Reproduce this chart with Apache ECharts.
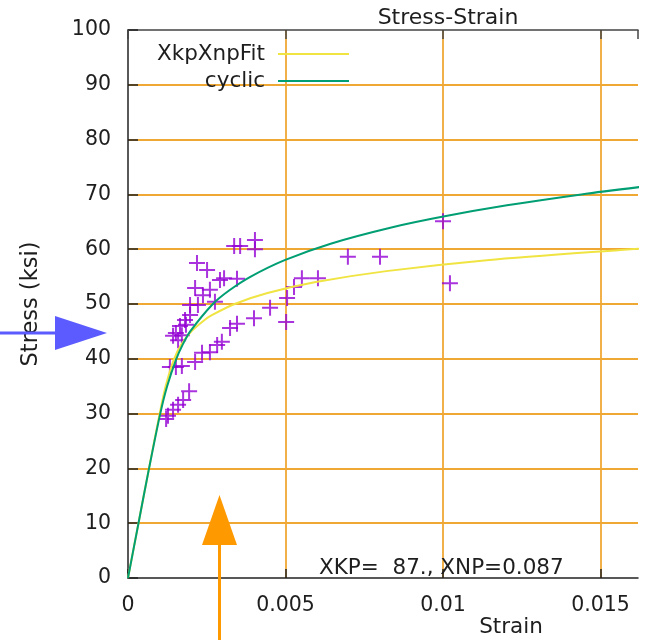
<!DOCTYPE html>
<html>
<head>
<meta charset="utf-8">
<script src="https://cdn.jsdelivr.net/npm/echarts@6/dist/echarts.min.js"></script>
<style>html,body{margin:0;padding:0;background:#fff}#c{width:651px;height:640px}</style>
</head>
<body>
<div id="c"></div>
<script>
// ---- data ----
var xTicks = [0, 0.005, 0.01, 0.015];
var yTicks = [0, 10, 20, 30, 40, 50, 60, 70, 80, 90, 100];
// test points (strain, stress ksi)
var testStrain = [0.00219,0.00251,0.00292,0.00305,0.00346,0.00213,0.00238,0.00260,0.00222,0.00197,
  0.00276,0.00181,0.00197,0.00165,0.00184,0.00152,0.00171,0.00143,0.00159,0.00356,
  0.00403,0.00403,0.00337,0.00133,0.00152,0.00171,0.00213,0.00235,0.00260,0.00283,
  0.00298,0.00324,0.00346,0.00400,0.00451,0.00502,0.00505,0.00527,0.00552,0.00603,
  0.00698,0.00800,0.01000,0.01022,0.00194,0.00175,0.00159,0.00143,0.00127,0.00121];
var testStress = [57.5,56.2,54.4,54.7,54.6,52.9,51.6,52.6,49.8,49.8,
  50.4,47.1,48.0,46.0,46.2,44.7,44.3,44.2,43.4,60.6,
  61.7,60.0,60.6,38.5,38.5,38.7,39.4,41.1,41.2,42.5,
  43.1,45.6,46.4,47.4,49.3,46.7,51.1,53.1,54.7,54.7,
  58.6,58.6,65.1,53.8,34.1,32.5,31.6,30.7,29.6,29.0];
// XkpXnpFit curve
var fitStrain = [0,0.000333,0.000667,0.001005,0.001195,0.001465,0.001682,0.002012,0.002411,0.002675,0.003386,0.00443,0.00596,0.0082,0.01139,0.01596,0.01651];
var fitStress = [0,10,20,30,35,40,42.5,45,47,48,50,52,54,56,58,60,60.2];
// cyclic curve
var cycStrain = [0,0.000333,0.000668,0.001024,0.001242,0.001534,0.001729,0.001975,0.002694,0.00322,0.003897,0.004974,0.006433,0.008393,0.01005,0.01203,0.01439,0.01647];
var cycStress = [0,10,20,30,35,40,42.5,45,50,52.5,55,58,61,64,66,68,70,71.5];
var annotation = 'XKP=  87., XNP=0.087';

function pairs(xs, ys){ return xs.map(function(x,i){ return [x, ys[i]]; }); }

var FONT = 'DejaVu Sans';
var TXT = '#1e1e1e';
var GRIDC = '#f0a835';
var chart = echarts.init(document.getElementById('c'), null, {renderer:'canvas'});
chart.setOption({
  animation: false,
  backgroundColor: '#fff',
  title: {
    text: 'Stress-Strain', left: 443, top: 2, textAlign: 'center',
    textStyle: {fontFamily: FONT, fontSize: 22, fontWeight: 'normal', color: TXT}
  },
  legend: {
    data: ['XkpXnpFit', 'cyclic'],
    orient: 'vertical', align: 'right', icon: 'rect',
    right: 297, top: 38, itemWidth: 71, itemHeight: 2, itemGap: 5,
    textStyle: {fontFamily: FONT, fontSize: 21.5, color: TXT, padding: [0, 8, 0, 0]}
  },
  grid: {left: 128, right: 13, top: 30, bottom: 62, containLabel: false},
  xAxis: [{
    type: 'value', min: 0, max: 0.01619, interval: 0.005, position: 'bottom',
    axisLine: {show: true, lineStyle: {color: '#222', width: 1.5}},
    axisTick: {show: true, inside: true, length: 9, lineStyle: {color: '#222', width: 1.5}},
    axisLabel: {fontFamily: FONT, fontSize: 20.5, color: TXT, margin: 17, showMaxLabel: false,
      formatter: function(v){ var r = Math.round(v*1000)/1000; return xTicks.indexOf(r) >= 0 ? String(r) : ''; }},
    splitLine: {show: true, showMinLine: false, showMaxLine: false, lineStyle: {color: GRIDC, width: 1.8}}
  }, {
    type: 'value', min: 0, max: 0.01619, interval: 0.005, position: 'top',
    axisLine: {show: true, lineStyle: {color: '#444', width: 1.5}},
    axisTick: {show: true, inside: true, length: 9, lineStyle: {color: '#444', width: 1.5}},
    axisLabel: {show: false}, splitLine: {show: false}
  }],
  yAxis: {
    type: 'value', min: 0, max: 100, interval: 10,
    axisLine: {show: true, lineStyle: {color: '#222', width: 1.5}},
    axisTick: {show: true, inside: true, length: 10, lineStyle: {color: '#222', width: 1.5}},
    axisLabel: {fontFamily: FONT, fontSize: 20.5, color: TXT, margin: 17},
    splitLine: {show: true, showMinLine: false, showMaxLine: false, lineStyle: {color: GRIDC, width: 1.8}}
  },
  series: [{
    name: 'test', type: 'scatter', data: pairs(testStrain, testStress),
    symbol: 'path://M0,-1L0,1M-1,0L1,0', symbolSize: 16,
    itemStyle: {color: 'rgba(0,0,0,0)', borderColor: '#9400d3', borderWidth: 2},
    z: 2
  }, {
    name: 'XkpXnpFit', type: 'line', data: pairs(fitStrain, fitStress),
    smooth: 0.3, symbol: 'none', lineStyle: {color: '#f0e442', width: 2}, itemStyle: {color: '#f0e442'}, z: 3
  }, {
    name: 'cyclic', type: 'line', data: pairs(cycStrain, cycStress),
    smooth: 0.3, symbol: 'none', lineStyle: {color: '#009e73', width: 2}, itemStyle: {color: '#009e73'}, z: 4
  }],
  graphic: [
    {type: 'text', x: 319, y: 568, z: 10,
      style: {text: annotation, fontFamily: FONT, fontSize: 21.5, fill: TXT, align: 'left', verticalAlign: 'middle'}},
    {type: 'text', x: 511, y: 627, z: 10,
      style: {text: 'Strain', fontFamily: FONT, fontSize: 21.5, fill: TXT, align: 'center', verticalAlign: 'middle'}},
    {type: 'text', x: 31, y: 304, rotation: Math.PI/2, z: 10,
      style: {text: 'Stress (ksi)', fontFamily: FONT, fontSize: 22.5, fill: TXT, align: 'center', verticalAlign: 'middle'}},
    {type: 'line', z: 20, shape: {x1: 0, y1: 333, x2: 60, y2: 333}, style: {stroke: '#5b5bff', lineWidth: 3}},
    {type: 'polygon', z: 20, shape: {points: [[55,316],[107,333],[55,350]]}, style: {fill: '#5b5bff'}},
    {type: 'line', z: 20, shape: {x1: 219.5, y1: 540, x2: 219.5, y2: 640}, style: {stroke: '#ff9900', lineWidth: 3}},
    {type: 'polygon', z: 20, shape: {points: [[202,545],[237,545],[219.5,495]]}, style: {fill: '#ff9900'}}
  ]
});
</script>
</body>
</html>
